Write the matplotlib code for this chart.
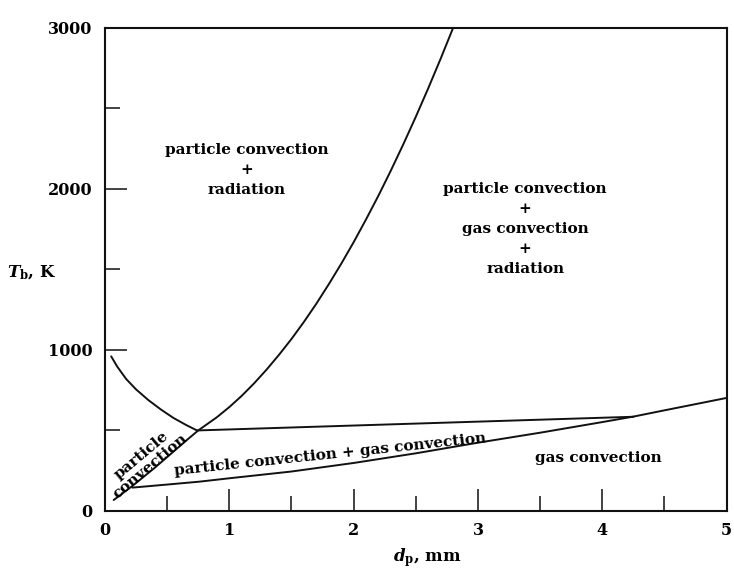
import matplotlib
matplotlib.use('Agg')
import matplotlib.pyplot as plt
from matplotlib.ticker import MultipleLocator

plt.rcParams['font.family'] = ['DejaVu Serif']
plt.rcParams['font.weight'] = 'bold'
plt.rcParams['mathtext.fontset'] = 'custom'
plt.rcParams['mathtext.it'] = 'DejaVu Serif:italic:bold'
plt.rcParams['mathtext.rm'] = 'DejaVu Serif:bold'
plt.rcParams['mathtext.bf'] = 'DejaVu Serif:bold'

c = '#111111'

# boundary curves between heat-transfer regimes (d_p in mm, T_b in K)
# particle convection / radiation limit at small d_p
rad_d = [0.05, 0.10, 0.17, 0.25, 0.35, 0.45, 0.55, 0.65, 0.74]
rad_T = [960, 895, 820, 755, 688, 630, 578, 535, 500]

# particle convection / gas convection limit (steep curve)
pc_d = [0.07, 0.22, 0.40, 0.55, 0.65, 0.75, 0.9, 1.0, 1.1, 1.2, 1.3, 1.4, 1.5,
        1.6, 1.7, 1.8, 1.9, 2.0, 2.1, 2.2, 2.3, 2.4, 2.5, 2.6, 2.7, 2.8]
pc_T = [68, 155, 268, 368, 435, 500, 582, 645, 715, 793, 878, 970, 1068,
        1174, 1287, 1408, 1535, 1669, 1811, 1959, 2115, 2278, 2448, 2625, 2809, 3000]

# radiation onset line
top_d = [0.74, 4.25]
top_T = [500, 585]

# gas convection limit
gas_d = [0.22, 0.5, 0.76, 1.0, 1.5, 2.0, 2.5, 3.0, 3.5, 4.0, 4.25, 4.5, 5.0]
gas_T = [145, 164, 182, 203, 245, 298, 358, 424, 486, 552, 586, 625, 702]

fig = plt.figure(figsize=(7.34, 5.69), dpi=100)
ax = fig.add_axes([0.143, 0.102, 0.847, 0.849])

for xs, ys in [(rad_d, rad_T), (pc_d, pc_T), (top_d, top_T), (gas_d, gas_T)]:
    ax.plot(xs, ys, color=c, lw=1.4, solid_capstyle='round', solid_joinstyle='round')

ax.set_xlim(0, 5)
ax.set_ylim(0, 3000)
ax.xaxis.set_major_locator(MultipleLocator(1))
ax.xaxis.set_minor_locator(MultipleLocator(0.5))
ax.yaxis.set_major_locator(MultipleLocator(1000))
ax.yaxis.set_minor_locator(MultipleLocator(500))
ax.tick_params(which='both', direction='in', top=False, right=False,
               width=1.1, color=c, labelsize=11.5)
ax.tick_params(which='major', length=16)
ax.tick_params(which='minor', length=11)
ax.tick_params(axis='x', pad=8)
ax.tick_params(axis='y', pad=9)
for s in ax.spines.values():
    s.set_linewidth(1.5)
    s.set_color(c)

fs = 11
ax.text(1.14, 2118, 'particle convection\n+\nradiation', ha='center', va='center',
        fontsize=fs, linespacing=1.55)
ax.text(3.38, 1752, 'particle convection\n+\ngas convection\n+\nradiation',
        ha='center', va='center', fontsize=fs, linespacing=1.55)
ax.text(1.81, 348, 'particle convection + gas convection', ha='center', va='center',
        fontsize=fs, rotation=6, rotation_mode='anchor')
ax.text(3.97, 329, 'gas convection', ha='center', va='center', fontsize=fs)
ax.text(0.33, 310, 'particle\nconvection', ha='center', va='center', fontsize=fs,
        rotation=40, rotation_mode='anchor', linespacing=1.0)

fig.text(32 / 734, 1 - 273 / 569, r'$T_{\mathrm{b}}$, K', ha='center', va='center',
         fontsize=12)
fig.text(427 / 734, 1 - 558 / 569, r'$d_{\mathrm{p}}$, mm', ha='center', va='center',
         fontsize=12)

fig.savefig('out.png', dpi=100, facecolor='white')
